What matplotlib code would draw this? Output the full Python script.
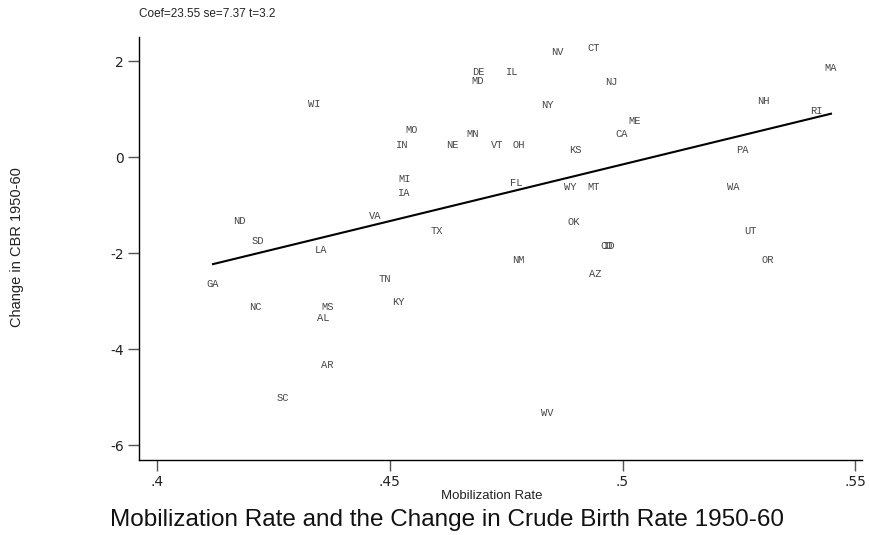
import numpy as np
import matplotlib.pyplot as plt

# state abbreviations, mobilization rate and change in crude birth rate 1950-60
states = ['MA', 'NH', 'RI', 'PA', 'WA', 'UT', 'OR', 'ME', 'CA', 'NJ', 'CT', 'NV',
          'NY', 'IL', 'DE', 'MD', 'KS', 'VT', 'OH', 'MN', 'NE', 'MO', 'IN', 'MI',
          'IA', 'FL', 'WY', 'MT', 'OK', 'CO', 'ID', 'NM', 'AZ', 'WV', 'TX', 'VA',
          'TN', 'KY', 'LA', 'MS', 'AL', 'AR', 'SC', 'NC', 'GA', 'ND', 'SD', 'WI']
mobil = [0.5448, 0.5302, 0.5416, 0.5257, 0.5238, 0.5276, 0.5313, 0.5025, 0.4999,
         0.4975, 0.4937, 0.4859, 0.4838, 0.4763, 0.4690, 0.4688, 0.4898, 0.4731,
         0.4778, 0.4677, 0.4634, 0.4546, 0.4526, 0.4531, 0.4531, 0.4771, 0.4887,
         0.4937, 0.4896, 0.4966, 0.4972, 0.4776, 0.4941, 0.4838, 0.4602, 0.4468,
         0.4490, 0.4518, 0.4352, 0.4367, 0.4357, 0.4365, 0.4271, 0.4211, 0.4120,
         0.4176, 0.4217, 0.4337]
dcbr = [1.85, 1.17, 0.96, 0.15, -0.63, -1.54, -2.15, 0.75, 0.48, 1.56, 2.27, 2.19,
        1.08, 1.77, 1.77, 1.58, 0.15, 0.25, 0.25, 0.48, 0.25, 0.56, 0.25, -0.46,
        -0.75, -0.54, -0.63, -0.63, -1.35, -1.85, -1.85, -2.15, -2.44, -5.33, -1.54,
        -1.23, -2.54, -3.02, -1.94, -3.13, -3.35, -4.33, -5.02, -3.13, -2.65, -1.33,
        -1.75, 1.10]

x = np.array(mobil)
y = np.array(dcbr)
slope, intercept = np.polyfit(x, y, 1)

fig = plt.figure(figsize=(8.7, 5.35), dpi=100)
ax = fig.add_axes([0.1598, 0.1402, 0.8312, 0.7906])

# labels stand in for the markers
for s, xi, yi in zip(states, x, y):
    ax.text(xi, yi, s, ha='center', va='center', fontsize=7.5,
            family='Liberation Mono', color='#444444')

xs = np.array([x.min(), x.max()])
ax.plot(xs, intercept + slope * xs, color='black', lw=1.5)

ax.set_xlim(0.3961, 0.5515)
ax.set_ylim(-6.31, 2.5)
ax.set_xticks([0.4, 0.45, 0.5, 0.55])
ax.set_xticklabels(['.4', '.45', '.5', '.55'])
ax.set_yticks([2, 0, -2, -4, -6])
ax.set_yticklabels(['2', '0', '-2', '-4', '-6'])

for side in ['top', 'right']:
    ax.spines[side].set_visible(False)
for side in ['left', 'bottom']:
    ax.spines[side].set_linewidth(1.0)
ax.tick_params(axis='both', length=8, width=1, color='#555555',
               labelsize=10, labelcolor='#222222')
ax.tick_params(axis='x', pad=3)
ax.tick_params(axis='y', pad=3)

fig.text(0.5655, 0.073, 'Mobilization Rate', ha='center', va='center',
         fontsize=9.5, family='Liberation Sans', color='#222222')
fig.text(0.019, 0.538, 'Change in CBR 1950-60', ha='center', va='center',
         rotation=90, fontsize=10.5, family='Liberation Sans', color='#222222')
fig.text(0.160, 0.974, 'Coef=23.55 se=7.37 t=3.2', ha='left', va='center',
         fontsize=8.5, family='Liberation Sans', color='#222222')
fig.text(0.514, 0.028, 'Mobilization Rate and the Change in Crude Birth Rate 1950-60',
         ha='center', va='center', fontsize=17.5, family='Liberation Sans',
         color='#111111')

fig.savefig('out.png', dpi=100)
